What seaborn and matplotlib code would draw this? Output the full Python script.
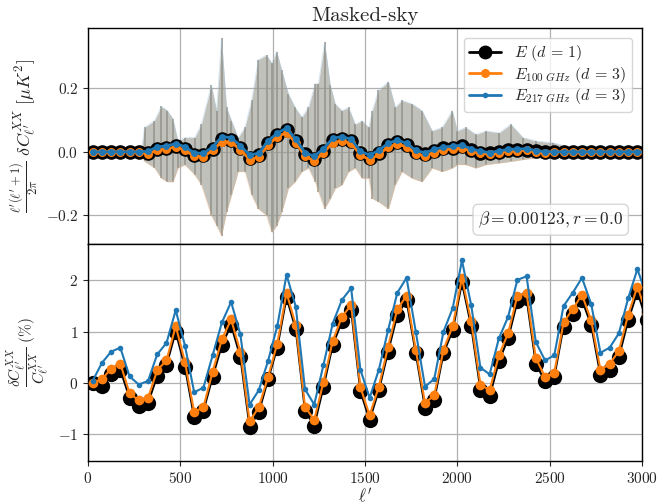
import numpy as np
import pandas as pd
import matplotlib
matplotlib.use("Agg")
import matplotlib.pyplot as plt
import seaborn as sns

# ---------------- data ----------------
ell_bins = [25 + 50 * k for k in range(61)]  # bin centres 25 ... 3025

top_black = [0, 0, 0, 0, 0, 0,
             -0.003, 0.010, 0.013, 0.020, 0.010, -0.009, -0.010, 0.010, 0.040, 0.038,
             0.013, -0.018, -0.010, 0.028, 0.053, 0.068, 0.034, -0.007, -0.022, 0.003,
             0.036, 0.041, 0.033, -0.004, -0.018, -0.002, 0.021, 0.031, 0.021, 0.000,
             -0.008, 0.003, 0.011, 0.013, 0.017, 0.006, -0.002, -0.005, 0.000, 0.005,
             0.006, 0.007, 0.002, 0.000,
             0, 0, 0, 0, 0, 0, 0, 0, 0, 0, 0]
top_100 = [0, 0, 0, 0, 0, 0,
           -0.006, 0.006, 0.009, 0.016, 0.005, -0.014, -0.015, 0.005, 0.032, 0.031,
           0.007, -0.024, -0.016, 0.021, 0.048, 0.061, 0.028, -0.012, -0.029, -0.003,
           0.029, 0.035, 0.027, -0.009, -0.025, -0.008, 0.015, 0.025, 0.016, -0.006,
           -0.013, -0.002, 0.007, 0.009, 0.013, 0.002, -0.005, -0.007, -0.003, 0.003,
           0.004, 0.005, 0.000, -0.002,
           0, 0, 0, 0, 0, 0, 0, 0, 0, 0, 0]
top_217 = [0, 0, 0, 0, 0, 0,
           0.002, 0.016, 0.019, 0.026, 0.016, -0.003, -0.005, 0.016, 0.048, 0.045,
           0.020, -0.010, -0.004, 0.035, 0.059, 0.075, 0.040, -0.002, -0.014, 0.010,
           0.043, 0.048, 0.040, 0.002, -0.010, 0.005, 0.027, 0.037, 0.027, 0.005,
           -0.003, 0.008, 0.015, 0.018, 0.021, 0.010, 0.002, -0.002, 0.003, 0.008,
           0.009, 0.010, 0.004, 0.001,
           0, 0, 0, 0, 0, 0, 0, 0, 0, 0, 0]

bot_black = [0.00, -0.05, 0.18, 0.26, -0.29, -0.45, -0.39, 0.14, 0.35, 1.00,
             0.31, -0.67, -0.54, 0.12, 0.74, 1.13, 0.51, -0.85, -0.57, 0.07,
             0.69, 1.67, 1.05, -0.54, -0.83, -0.08, 0.74, 1.20, 1.42, -0.16,
             -0.72, -0.14, 0.61, 1.33, 1.61, 0.58, -0.48, -0.33, 0.58, 1.03,
             1.96, 1.11, -0.13, -0.26, 0.42, 0.87, 1.59, 1.65, 0.38, 0.03,
             0.12, 1.10, 1.35, 1.62, 1.13, 0.15, 0.26, 0.51, 1.22, 1.78, 1.22]
bot_100 = [0.00, 0.07, 0.28, 0.38, -0.20, -0.34, -0.29, 0.25, 0.44, 1.11,
           0.41, -0.57, -0.47, 0.22, 0.85, 1.24, 0.61, -0.75, -0.47, 0.12,
           0.77, 1.76, 1.13, -0.46, -0.72, 0.02, 0.82, 1.29, 1.52, -0.08,
           -0.63, -0.07, 0.71, 1.44, 1.70, 0.65, -0.39, -0.24, 0.65, 1.11,
           2.05, 1.20, -0.03, -0.14, 0.54, 0.97, 1.70, 1.75, 0.48, 0.12,
           0.20, 1.18, 1.44, 1.72, 1.22, 0.26, 0.37, 0.63, 1.33, 1.88, 1.35]
bot_217 = [0.04, 0.39, 0.61, 0.69, 0.13, -0.03, 0.04, 0.56, 0.78, 1.42,
           0.73, -0.18, -0.09, 0.54, 1.18, 1.58, 0.95, -0.42, -0.14, 0.43,
           1.11, 2.11, 1.49, -0.12, -0.42, 0.35, 1.16, 1.62, 1.85, 0.26,
           -0.29, 0.26, 1.03, 1.76, 2.05, 1.00, -0.07, 0.08, 1.00, 1.46,
           2.39, 1.52, 0.30, 0.17, 0.87, 1.29, 2.01, 2.08, 0.80, 0.44,
           0.54, 1.50, 1.76, 2.05, 1.54, 0.59, 0.69, 0.97, 1.65, 2.22, 1.70]

# envelope of the unbinned (per-multipole) residuals
noise_ell = [0, 290, 306, 360, 397, 430, 460, 487, 524, 578, 614, 668, 696, 723, 750,
             777, 813, 850, 886, 922, 967, 995, 1022, 1049, 1085, 1121, 1158, 1194,
             1230, 1248, 1281, 1312, 1339, 1375, 1411, 1447, 1484, 1520, 1540, 1573,
             1627, 1664, 1700, 1755, 1809, 1864, 1918, 1973, 2000, 2045, 2100, 2155,
             2227, 2290, 2355, 2427, 2518, 2590, 3000]
noise_up = [0.008, 0.010, 0.077, 0.098, 0.143, 0.130, 0.104, 0.034, 0.045, 0.045,
            0.087, 0.210, 0.130, 0.357, 0.140, 0.098, 0.045, 0.077, 0.162, 0.290,
            0.305, 0.279, 0.316, 0.257, 0.183, 0.140, 0.109, 0.140, 0.215, 0.215,
            0.345, 0.210, 0.151, 0.130, 0.140, 0.087, 0.098, 0.077, 0.130, 0.194,
            0.221, 0.140, 0.162, 0.151, 0.130, 0.066, 0.077, 0.130, 0.066, 0.077,
            0.055, 0.066, 0.060, 0.087, 0.045, 0.034, 0.029, 0.018, 0.018]
noise_lo = [-0.010, -0.014, -0.030, -0.050, -0.083, -0.094, -0.094, -0.051, -0.040,
            -0.072, -0.104, -0.200, -0.232, -0.264, -0.190, -0.136, -0.062, -0.062,
            -0.136, -0.179, -0.200, -0.253, -0.232, -0.190, -0.115, -0.094, -0.062,
            -0.051, -0.094, -0.126, -0.179, -0.147, -0.115, -0.104, -0.062, -0.051,
            -0.083, -0.083, -0.147, -0.157, -0.179, -0.104, -0.062, -0.083, -0.094,
            -0.051, -0.062, -0.051, -0.040, -0.040, -0.051, -0.040, -0.035, -0.030,
            -0.024, -0.019, -0.019, -0.014, -0.014]

x_ticks = [0, 500, 1000, 1500, 2000, 2500, 3000]
top_yticks = [-0.2, 0.0, 0.2]
bot_yticks = [-1, 0, 1, 2]

labels = [r'$E\ (d\,=\,1)$', r'$E_{100\ GHz}\ (d\,=\,3)$', r'$E_{217\ GHz}\ (d\,=\,3)$']

# ---------------- style ----------------
sns.set_style("ticks")
plt.rcParams['font.family'] = ['serif']
plt.rcParams['font.serif'] = ['cmr10', 'DejaVu Serif']
plt.rcParams['mathtext.fontset'] = 'cm'
plt.rcParams['axes.formatter.use_mathtext'] = True
plt.rcParams['axes.unicode_minus'] = True

C_BLACK = 'black'
C_ORANGE = '#ff7f0e'
C_BLUE = '#1f77b4'
C_NOISE = '#98988f'

fig = plt.figure(figsize=(6.57, 5.04), dpi=100)
ax1 = fig.add_axes([88 / 657, 1 - 244 / 504, 554 / 657, 216 / 504])
ax2 = fig.add_axes([88 / 657, 1 - 461 / 504, 554 / 657, 217 / 504], sharex=ax1)

top = pd.DataFrame({'ell': ell_bins, 'black': top_black, 'e100': top_100, 'e217': top_217})
bot = pd.DataFrame({'ell': ell_bins, 'black': bot_black, 'e100': bot_100, 'e217': bot_217})

# noisy unbinned residuals: translucent envelope plus the read-off spikes
ax1.fill_between(noise_ell, noise_lo, noise_up, color=C_NOISE, alpha=0.6,
                 linewidth=0, zorder=1)
ax1.vlines(noise_ell, noise_lo, noise_up, color=C_NOISE, lw=1.3, alpha=0.95, zorder=1)
ax1.plot(noise_ell, noise_up, color='#a9cce8', lw=0.6, alpha=0.5, zorder=1)
ax1.plot(noise_ell, noise_lo, color='#f2b98a', lw=0.6, alpha=0.5, zorder=1)

# binned curves, top
sns.lineplot(data=top, x='ell', y='black', ax=ax1, color=C_BLACK, lw=3.5,
             marker='o', markersize=10.5, markeredgewidth=0, zorder=3)
sns.lineplot(data=top, x='ell', y='e100', ax=ax1, color=C_ORANGE, lw=2.0,
             marker='o', markersize=6.5, markeredgewidth=0, zorder=4)
sns.lineplot(data=top, x='ell', y='e217', ax=ax1, color=C_BLUE, lw=2.0,
             marker='o', markersize=5, markeredgewidth=0, zorder=5)

# bottom panel
sns.lineplot(data=bot, x='ell', y='black', ax=ax2, color=C_BLACK, lw=1.5,
             marker='o', markersize=11, markeredgewidth=0, zorder=3)
sns.lineplot(data=bot, x='ell', y='e100', ax=ax2, color=C_ORANGE, lw=1.5,
             marker='o', markersize=7, markeredgewidth=0, zorder=4)
sns.lineplot(data=bot, x='ell', y='e217', ax=ax2, color=C_BLUE, lw=1.5,
             marker='o', markersize=4, markeredgewidth=0, zorder=5)

for ax in (ax1, ax2):
    ax.set_xlim(0, 3000)
    ax.set_xticks(x_ticks)
    ax.grid(True, color='#b0b0b0', lw=0.9)
    ax.set_axisbelow(True)
    for s in ax.spines.values():
        s.set_linewidth(1.0)
        s.set_color('black')
    ax.tick_params(labelsize=11, direction='out', length=3.5, width=0.8)

ax1.set_ylim(-0.29, 0.39)
ax1.set_yticks(top_yticks)
ax1.tick_params(labelbottom=False)
ax1.set_xlabel('')
ax1.set_ylabel(r'$\frac{\ell^\prime(\ell^\prime+1)}{2\pi}\ \delta C_{\ell^\prime}^{XX}\ [\mu K^2]$',
               fontsize=13, labelpad=4)
ax1.set_title('Masked-sky', fontsize=15, pad=5)

ax2.set_ylim(-1.52, 2.71)
ax2.set_yticks(bot_yticks)
ax2.set_xlabel(r'$\ell^\prime$', fontsize=12, labelpad=0)
ax2.set_ylabel(r'$\dfrac{\delta C_{\ell^\prime}^{XX}}{C_{\ell^\prime}^{XX}}\ (\%)$',
               fontsize=11, labelpad=5)

# legend
handles = [
    plt.Line2D([], [], color=C_BLACK, lw=2.0, marker='o', markersize=10, markeredgewidth=0),
    plt.Line2D([], [], color=C_ORANGE, lw=2.0, marker='o', markersize=6.5, markeredgewidth=0),
    plt.Line2D([], [], color=C_BLUE, lw=2.0, marker='o', markersize=4, markeredgewidth=0),
]
leg = ax1.legend(handles, labels, loc='upper right', fontsize=11.5, frameon=True,
                 framealpha=0.8, edgecolor='#cccccc', fancybox=True,
                 handlelength=2.0, borderaxespad=0.6, labelspacing=0.1,
                 borderpad=0.35)
leg.set_zorder(10)

ax1.text(0.966, 0.065, r'$\beta = 0.00123, r = 0.0$', transform=ax1.transAxes,
         ha='right', va='bottom', fontsize=12.5, zorder=10,
         bbox=dict(boxstyle='round,pad=0.3', facecolor='white', edgecolor='#cccccc',
                   alpha=0.8))

fig.savefig('out.png', dpi=100)
